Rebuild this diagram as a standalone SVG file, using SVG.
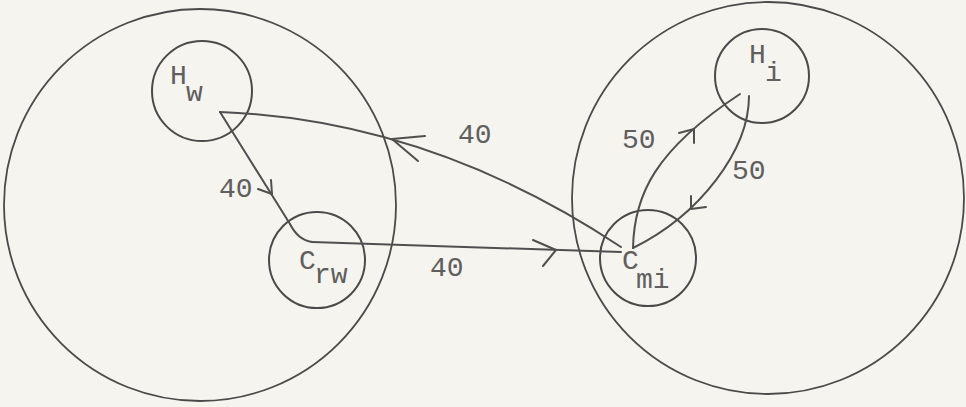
<svg xmlns="http://www.w3.org/2000/svg" width="966" height="407" viewBox="0 0 966 407">
  <style>
    .big { fill: none; stroke: #4a4a4a; stroke-width: 1.8; }
    .node { fill: none; stroke: #4a4a4a; stroke-width: 2; }
    .edge { fill: none; stroke: #4f4f4f; stroke-width: 2; stroke-linecap: round; stroke-linejoin: round; }
    .head { fill: none; stroke: #4f4f4f; stroke-width: 2; stroke-linecap: round; stroke-linejoin: round; }
    .lbl { font-family: "Liberation Mono", "DejaVu Sans Mono", monospace; font-size: 28px; fill: #5f5f5f; }
  </style>
  <rect x="0" y="0" width="966" height="407" fill="#f5f4ef"/>

  <g id="region-left">
    <circle class="big" cx="200" cy="205" r="196"/>
  </g>
  <g id="region-right">
    <circle class="big" cx="768" cy="198" r="196"/>
  </g>

  <g id="node-Hw">
    <circle class="node" cx="202" cy="91" r="50"/>
    <text class="lbl" x="170" y="84">H</text>
    <text class="lbl" x="186" y="101">w</text>
  </g>
  <g id="node-Crw">
    <circle class="node" cx="317" cy="260" r="48"/>
    <text class="lbl" x="299" y="269">C</text>
    <text class="lbl" x="314" y="283">rw</text>
  </g>
  <g id="node-Cmi">
    <circle class="node" cx="648" cy="258" r="48"/>
    <text class="lbl" x="622" y="269">C</text>
    <text class="lbl" x="636" y="288">mi</text>
  </g>
  <g id="node-Hi">
    <circle class="node" cx="762" cy="76" r="47"/>
    <text class="lbl" x="749" y="63">H</text>
    <text class="lbl" x="765" y="81">i</text>
  </g>

  <g id="connectors">
    <!-- Hw -> Crw -->
    <path class="edge" d="M220,112 L290,224 Q298,240 312,242"/>
    <path class="head" d="M258,189 L272,194 L271,180"/>
    <!-- Crw -> Cmi -->
    <path class="edge" d="M312,242 L621,252"/>
    <path class="head" d="M533,240 L556,250 L543,266"/>
    <!-- Cmi -> Hw -->
    <path class="edge" d="M621,247 Q430,120 220,112"/>
    <path class="head" d="M425,136 L392,139 L418,161"/>
    <!-- Cmi -> Hi -->
    <path class="edge" d="M633,248 C634,195 655,150 740,94"/>
    <path class="head" d="M679,133 L694,129 L694,143"/>
    <!-- Hi -> Cmi -->
    <path class="edge" d="M749,96 C749,150 700,215 633,248"/>
    <path class="head" d="M691,196 L691,209 L706,207"/>

    <text class="lbl" x="219" y="197">40</text>
    <text class="lbl" x="458" y="143">40</text>
    <text class="lbl" x="430" y="276">40</text>
    <text class="lbl" x="622" y="148">50</text>
    <text class="lbl" x="732" y="179">50</text>
  </g>
</svg>
